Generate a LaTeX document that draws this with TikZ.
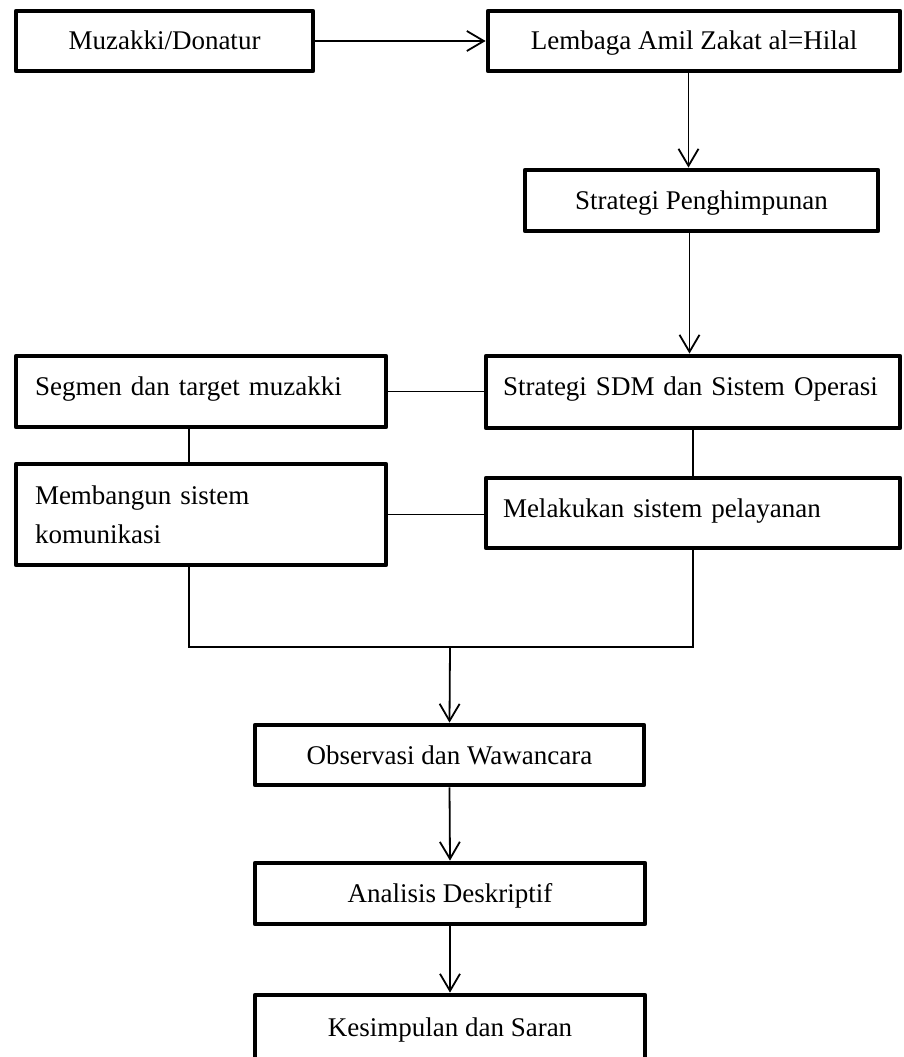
\documentclass[tikz,border=0pt]{standalone}
\usepackage{fontspec}
\setmainfont{Liberation Serif}
\usetikzlibrary{arrows.meta}
\begin{document}
\begin{tikzpicture}[x=1pt,y=-1pt,
	box/.style={draw,line width=4.8pt,line join=round,rectangle,
		font=\fontsize{27}{39}\selectfont},
	onerow/.style={box,text height=21pt,text depth=3pt},
	leftbox/.style={box,align=left,inner xsep=19pt},
	link/.style={line width=1.8pt},
	flow/.style={link,-{Straight Barb[length=17pt,width=20pt]}}]
\clip (0,0) rectangle (903,1057);
\node (muz) [onerow,minimum width=297pt,minimum height=60pt] at (164.5,41) {Muzakki/Donatur};
\node (laz) [onerow,minimum width=412pt,minimum height=60pt] at (694,41) {Lembaga Amil Zakat al=Hilal};
\node (peng) [onerow,minimum width=353pt,minimum height=61pt] at (701.5,200.5) {Strategi Penghimpunan};
\node (seg) [leftbox,text width=332pt,minimum height=71pt,text height=19pt,text depth=12pt] at (201,391.5) {Segmen dan target muzakki};
\node (sdm) [leftbox,inner xsep=17pt,text width=380pt,minimum height=72pt,text height=19pt,text depth=13pt] at (693,392) {Strategi SDM dan Sistem Operasi};
\node (mem) [leftbox,text width=332pt,minimum height=101pt] at (201,514.5) {Membangun sistem\\komunikasi};
\node (mel) [leftbox,inner xsep=17pt,text width=380pt,minimum height=70pt,text height=19pt,text depth=11pt] at (693,513) {Melakukan sistem pelayanan};
\node (obs) [onerow,minimum width=389pt,minimum height=60pt] at (449.5,755) {Observasi dan Wawancara};
\node (ana) [onerow,minimum width=390pt,minimum height=61pt] at (450,893.5) {Analisis Deskriptif};
\node (kes) [onerow,minimum width=390pt,minimum height=65pt] at (450,1027.5) {Kesimpulan dan Saran};
\coordinate (join) at (450,647);
\draw [flow] (muz.east) -- (laz.west);
\draw [flow] ([xshift=-13pt]peng.north |- laz.south) -- ([xshift=-13pt]peng.north);
\draw [flow] ([xshift=-12pt]peng.south) -- ([xshift=-12pt]peng.south |- sdm.north);
\draw [link] (seg.east) -- (seg.east -| sdm.west);
\draw [link] ([xshift=-12pt]seg.south) -- ([xshift=-12pt]mem.north);
\draw [link] (sdm.south) -- (mel.north);
\draw [link] (mem.east) -- (mem.east -| mel.west);
\draw [link] ([xshift=-12pt]mem.south) |- (join) -| (mel.south);
\draw [flow] (join) -- (obs.north);
\draw [flow] (obs.south) -- (ana.north);
\draw [flow] (ana.south) -- (kes.north);
\end{tikzpicture}
\end{document}
